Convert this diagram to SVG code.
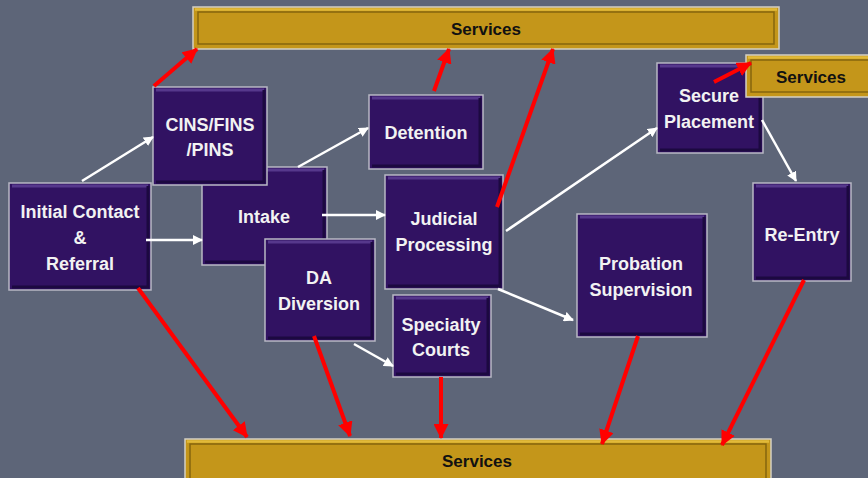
<svg xmlns="http://www.w3.org/2000/svg" width="868" height="478" viewBox="0 0 868 478">
<defs>
<style>
.box{fill:#311262;stroke:#b8b8c4;stroke-width:1.5}
.hl{fill:none;stroke:#56388c;stroke-width:3}
.sh{fill:none;stroke:#1c0940;stroke-width:3}
.bar{fill:#c4961a;stroke:#d4d0c4;stroke-width:1.5}
.bin{fill:none;stroke:#85650e;stroke-width:1.5}
.bhl{fill:none;stroke:#e2ba3a;stroke-width:2.5}
.t{font-family:"Liberation Sans",Arial,sans-serif;font-weight:bold;font-size:18px;fill:#f2f2f2;text-anchor:middle}
.st{font-family:"Liberation Sans",Arial,sans-serif;font-weight:bold;font-size:17px;fill:#111;text-anchor:middle}
.w{stroke:#ffffff;stroke-width:2.5;fill:none;marker-end:url(#wa)}
.r{stroke:#ff0000;stroke-width:4;fill:none;marker-end:url(#ra)}
</style>
<marker id="wa" markerUnits="userSpaceOnUse" markerWidth="10" markerHeight="10" refX="9" refY="5" orient="auto"><path d="M0,0 L10,5 L0,10 z" fill="#ffffff"/></marker>
<marker id="ra" markerUnits="userSpaceOnUse" markerWidth="15" markerHeight="15" refX="14" refY="7.5" orient="auto"><path d="M0,0 L15,7.5 L0,15 z" fill="#ff0000"/></marker>
</defs>
<rect x="0" y="0" width="868" height="478" fill="#5d6578"/>

<g id="services-top">
<rect class="bar" x="193" y="7" width="586" height="42"/>
<path class="bhl" d="M195,9.5 H777"/>
<rect class="bin" x="198" y="12" width="576" height="32"/>
<text class="st" x="486" y="35">Services</text>
</g>

<g id="initial-contact">
<rect class="box" x="9" y="183" width="142" height="107"/>
<path class="hl" d="M12,186 H148"/>
<path class="sh" d="M12,287 H148 V186"/>
<text class="t" x="80" y="218">Initial Contact</text>
<text class="t" x="80" y="244">&amp;</text>
<text class="t" x="80" y="270">Referral</text>
</g>

<g id="intake">
<rect class="box" x="202" y="167" width="125" height="98"/>
<path class="hl" d="M205,170 H324"/>
<path class="sh" d="M205,262 H324 V170"/>
<text class="t" x="264" y="223">Intake</text>
</g>

<g id="cins">
<rect class="box" x="153" y="87" width="114" height="98"/>
<path class="hl" d="M156,90 H264"/>
<path class="sh" d="M156,182 H264 V90"/>
<text class="t" x="210" y="131">CINS/FINS</text>
<text class="t" x="210" y="156">/PINS</text>
</g>

<g id="detention">
<rect class="box" x="369" y="95" width="114" height="74"/>
<path class="hl" d="M372,98 H480"/>
<path class="sh" d="M372,166 H480 V98"/>
<text class="t" x="426" y="139">Detention</text>
</g>

<g id="judicial">
<rect class="box" x="385" y="175" width="118" height="114"/>
<path class="hl" d="M388,178 H500"/>
<path class="sh" d="M388,286 H500 V178"/>
<text class="t" x="444" y="225">Judicial</text>
<text class="t" x="444" y="251">Processing</text>
</g>

<g id="da-diversion">
<rect class="box" x="265" y="239" width="110" height="102"/>
<path class="hl" d="M268,242 H372"/>
<path class="sh" d="M268,338 H372 V242"/>
<text class="t" x="319" y="284">DA</text>
<text class="t" x="319" y="310">Diversion</text>
</g>

<g id="specialty-courts">
<rect class="box" x="393" y="295" width="98" height="82"/>
<path class="hl" d="M396,298 H488"/>
<path class="sh" d="M396,374 H488 V298"/>
<text class="t" x="441" y="331">Specialty</text>
<text class="t" x="441" y="356">Courts</text>
</g>

<g id="probation">
<rect class="box" x="577" y="214" width="130" height="123"/>
<path class="hl" d="M580,217 H704"/>
<path class="sh" d="M580,334 H704 V217"/>
<text class="t" x="641" y="270">Probation</text>
<text class="t" x="641" y="296">Supervision</text>
</g>

<g id="secure-placement">
<rect class="box" x="657" y="63" width="106" height="90"/>
<path class="hl" d="M660,66 H760"/>
<path class="sh" d="M660,150 H760 V66"/>
<text class="t" x="709" y="102">Secure</text>
<text class="t" x="709" y="128">Placement</text>
</g>

<g id="re-entry">
<rect class="box" x="753" y="183" width="98" height="98"/>
<path class="hl" d="M756,186 H848"/>
<path class="sh" d="M756,278 H848 V186"/>
<text class="t" x="802" y="241">Re-Entry</text>
</g>

<g id="services-right">
<rect class="bar" x="746" y="55" width="130" height="42"/>
<path class="bhl" d="M748,57.5 H870"/>
<rect class="bin" x="751" y="60" width="125" height="32"/>
<text class="st" x="811" y="83">Services</text>
</g>

<g id="services-bottom">
<rect class="bar" x="185" y="439" width="586" height="45"/>
<path class="bhl" d="M187,441.5 H769"/>
<rect class="bin" x="190" y="444" width="576" height="40"/>
<text class="st" x="477" y="467">Services</text>
</g>

<g id="connectors">
<path class="w" d="M82,181 L153,137"/>
<path class="w" d="M146,240 L202,240"/>
<path class="w" d="M298,167 L368,128"/>
<path class="w" d="M322,215 L385,215"/>
<path class="w" d="M506,231 L657,128"/>
<path class="w" d="M762,120 L796,181"/>
<path class="w" d="M498,289 L573,320"/>
<path class="w" d="M354,344 L393,366"/>
<path class="r" d="M154,86 L197,49"/>
<path class="r" d="M434,91 L449,49"/>
<path class="r" d="M497,207 L553,49"/>
<path class="r" d="M714,82 L751,63"/>
<path class="r" d="M138,288 L247,437"/>
<path class="r" d="M314,336 L350,436"/>
<path class="r" d="M441,377 L441,438"/>
<path class="r" d="M638,336 L602,444"/>
<path class="r" d="M804,280 L722,445"/>
</g>
</svg>
